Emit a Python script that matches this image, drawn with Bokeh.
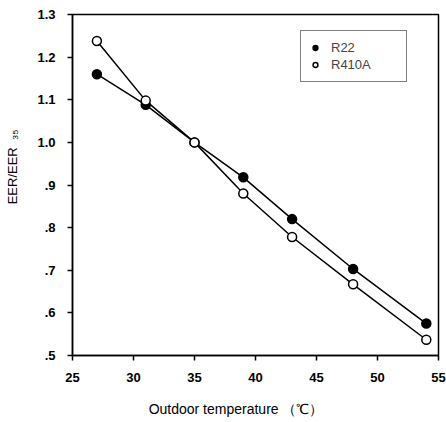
from bokeh.plotting import figure
from bokeh.models import Range1d, Legend, LegendItem, FixedTicker
from bokeh.embed import file_html
from bokeh.resources import INLINE

temps = [27, 31, 35, 39, 43, 48, 54]
r22 = [1.16, 1.088, 1.0, 0.918, 0.82, 0.703, 0.575]
r410a = [1.238, 1.098, 1.0, 0.88, 0.778, 0.667, 0.537]
x_ticks = [25, 30, 35, 40, 45, 50, 55]
y_ticks = [0.5, 0.6, 0.7, 0.8, 0.9, 1.0, 1.1, 1.2, 1.3]
y_tick_labels = [".5", ".6", ".7", ".8", ".9", "1.0", "1.1", "1.2", "1.3"]

FONT = "Liberation Sans"
nb = "\u00a0"

p = figure(width=446, height=422, output_backend="svg", toolbar_location=None,
           x_range=Range1d(25, 55), y_range=Range1d(0.5, 1.3),
           min_border_left=72, min_border_right=8, min_border_top=14, min_border_bottom=67)
p.xgrid.visible = False
p.ygrid.visible = False
p.outline_line_color = "black"
p.outline_line_width = 1.5
p.background_fill_color = "white"
p.border_fill_color = "white"

for ax in (p.xaxis[0], p.yaxis[0]):
    ax.axis_line_width = 1.5
    ax.axis_line_color = "black"
    ax.major_tick_line_width = 1.5
    ax.major_tick_line_color = "black"
    ax.major_tick_in = 0
    ax.major_tick_out = 5
    ax.minor_tick_line_color = None
    ax.major_label_text_font = FONT
    ax.major_label_text_font_size = "13px"
    ax.major_label_text_font_style = "bold"
    ax.major_label_text_color = "black"
    ax.axis_label_text_font = FONT
    ax.axis_label_text_font_style = "normal"
    ax.axis_label_text_color = "black"

p.xaxis.ticker = FixedTicker(ticks=x_ticks)
p.yaxis.ticker = FixedTicker(ticks=y_ticks)
p.yaxis.major_label_overrides = {t: l for t, l in zip(y_ticks, y_tick_labels)}
p.xaxis.major_label_standoff = 12
p.yaxis.major_label_standoff = 12

p.xaxis.axis_label = "Outdoor temperature （℃）" + nb * 10
p.xaxis.axis_label_text_font_size = "14px"
p.xaxis.axis_label_standoff = 16
p.yaxis.axis_label = nb * 10 + "EER/EER" + nb * 2 + "₃₅"
p.yaxis.axis_label_text_font_size = "13px"
p.yaxis.axis_label_standoff = 14

p.line(temps, r22, line_color="black", line_width=1.5)
p.line(temps, r410a, line_color="black", line_width=1.5)
s1 = p.scatter(temps, r22, size=9, marker="circle", fill_color="black", line_color="black", line_width=1.5)
s2 = p.scatter(temps, r410a, size=9, marker="circle", fill_color="white", line_color="black", line_width=1.5)

legend = Legend(items=[LegendItem(label="R22" + nb * 12, renderers=[s1]),
                       LegendItem(label="R410A" + nb * 6, renderers=[s2])],
                location=(228, 273), padding=8, spacing=0,
                glyph_width=12, glyph_height=17, label_height=17, label_standoff=10,
                label_text_font=FONT, label_text_font_size="13px",
                border_line_color="black", border_line_width=1.5,
                background_fill_alpha=1.0, margin=0)
p.add_layout(legend, "center")

open("out.html", "w").write(file_html(p, INLINE))
